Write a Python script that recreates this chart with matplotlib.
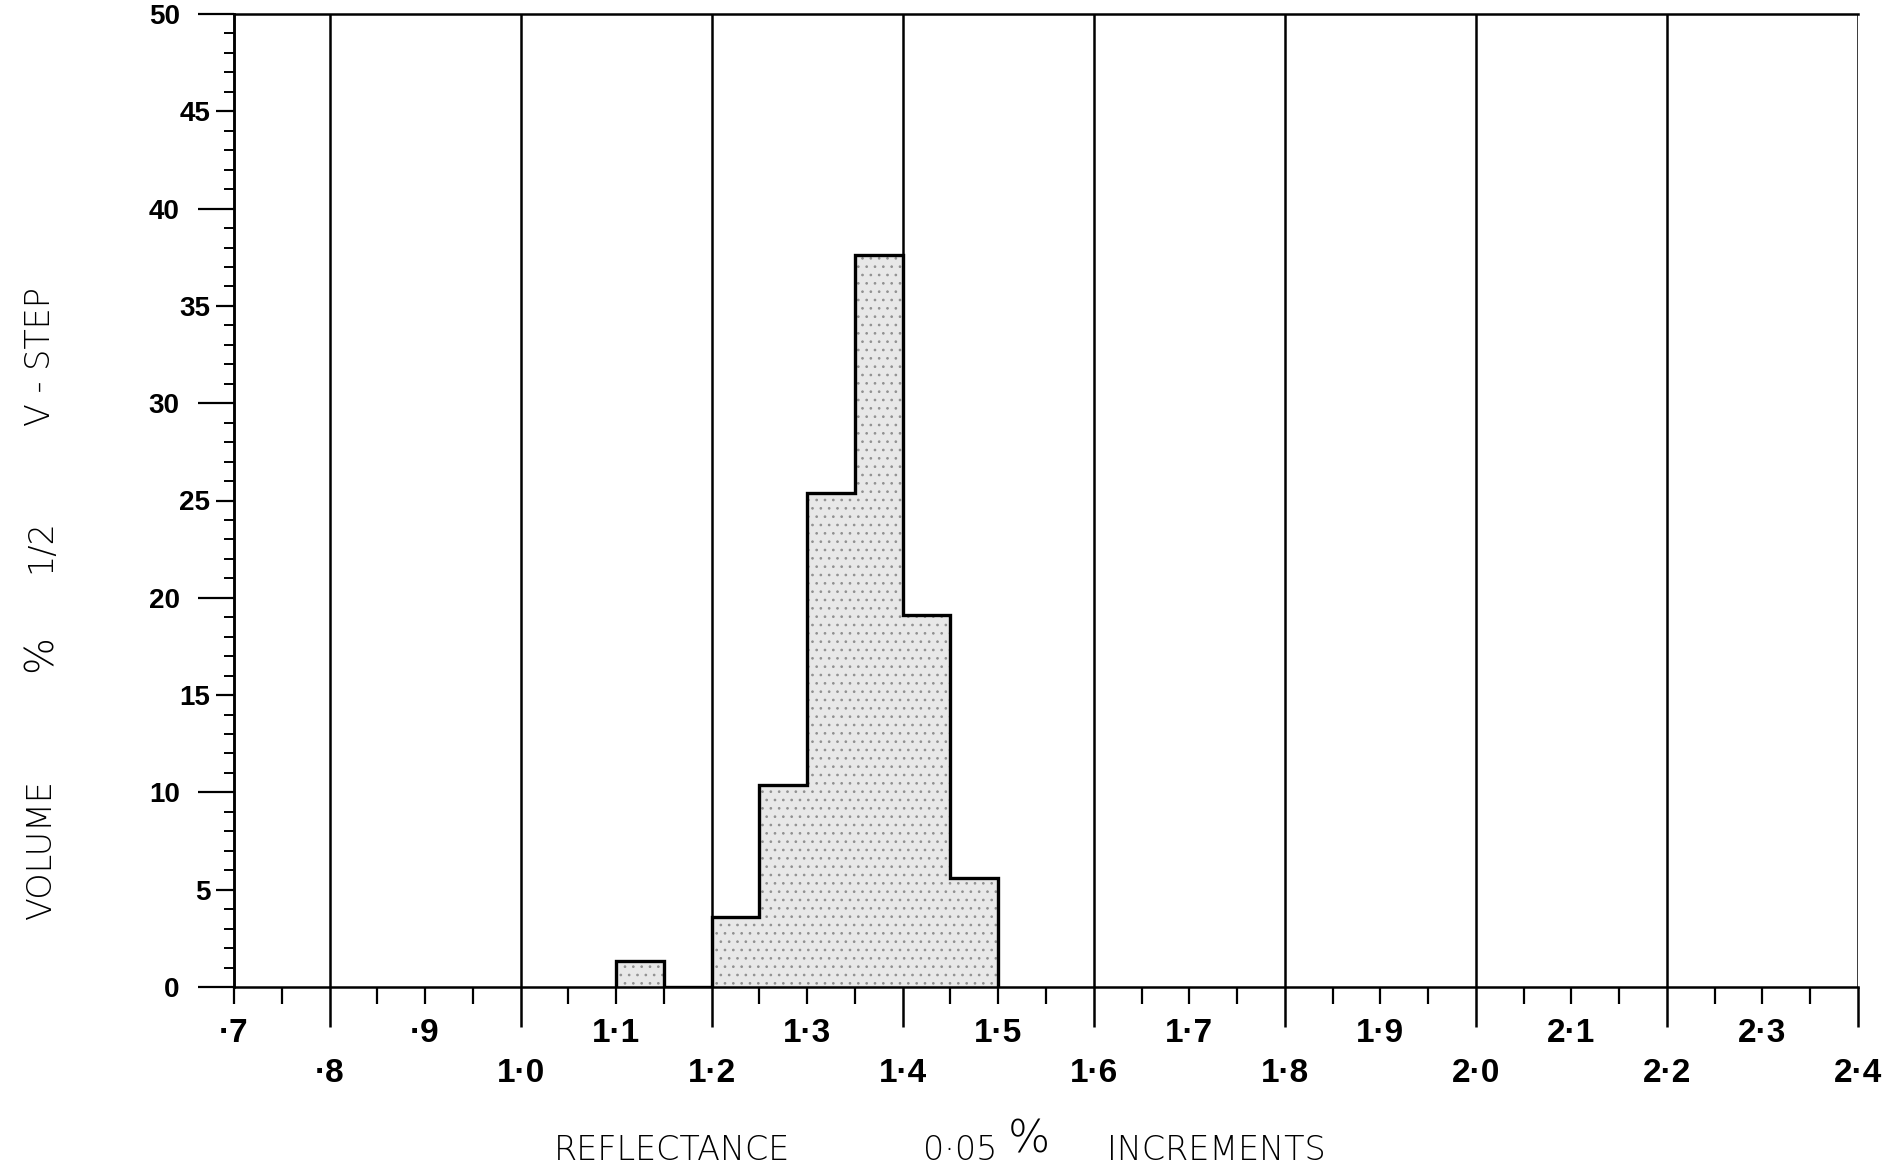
import matplotlib
matplotlib.use("Agg")
import matplotlib.pyplot as plt
from matplotlib.ticker import MultipleLocator, FixedLocator, FixedFormatter, FuncFormatter

# volume % per 0.05 % reflectance step
bin_edges = [1.10, 1.15, 1.20, 1.25, 1.30, 1.35, 1.40, 1.45, 1.50]
volume = [1.35, 0.0, 3.6, 10.4, 25.4, 37.6, 19.1, 5.6]

# x axis: long lines every 0.2 (lower label row), odd tenths on the upper row
x_even = [0.8, 1.0, 1.2, 1.4, 1.6, 1.8, 2.0, 2.2, 2.4]
x_even_labels = ["·8", "1·0", "1·2", "1·4", "1·6", "1·8", "2·0", "2·2", "2·4"]
x_odd = [0.7, 0.9, 1.1, 1.3, 1.5, 1.7, 1.9, 2.1, 2.3]
x_odd_labels = ["·7", "·9", "1·1", "1·3", "1·5", "1·7", "1·9", "2·1", "2·3"]

tick_font = ["Liberation Sans", "DejaVu Sans"]
title_font = ["DejaVu Sans"]

plt.rcParams["hatch.linewidth"] = 0.7

fig = plt.figure(figsize=(18.82, 11.73), dpi=100)
ax = fig.add_axes([234 / 1882, 1 - 987 / 1173, (1858 - 234) / 1882, (987 - 14) / 1173])
ax.set_xlim(0.7, 2.4)
ax.set_ylim(0, 50)

# histogram: stippled fill + heavy outline
ax.stairs(volume, bin_edges, fill=True, facecolor="#e8e8e8", edgecolor="#909090",
          hatch="..", linewidth=0, zorder=2)
ax.stairs(volume, bin_edges, baseline=0, color="black", linewidth=2.4, zorder=3)

ax.spines["right"].set_visible(False)
for side in ["left", "bottom", "top"]:
    ax.spines[side].set_linewidth(1.8)

# x ticks
ax.xaxis.set_major_locator(FixedLocator(x_even))
ax.xaxis.set_major_formatter(FixedFormatter(x_even_labels))
ax.xaxis.set_minor_locator(MultipleLocator(0.05))
odd_map = {round(v, 2): s for v, s in zip(x_odd, x_odd_labels)}
ax.xaxis.set_minor_formatter(FuncFormatter(lambda v, p: odd_map.get(round(v, 2), "")))
ax.tick_params(axis="x", which="major", length=29, width=1.8, pad=22, labelsize=24)
ax.tick_params(axis="x", which="minor", length=12, width=1.6, pad=10, labelsize=24)
ax.grid(axis="x", which="major", color="black", linewidth=1.8, zorder=1)

# y ticks: long at 10s, medium at 5s, short every 1
ax.yaxis.set_major_locator(MultipleLocator(10))
ax.yaxis.set_minor_locator(MultipleLocator(5))
ax.yaxis.set_minor_formatter(FuncFormatter(lambda v, p: f"{v:.0f}"))
ax.tick_params(axis="y", which="major", length=26, width=1.6, pad=13, labelsize=20)
ax.tick_params(axis="y", which="minor", length=13, width=1.6, pad=4, labelsize=20)

sec = ax.secondary_yaxis("left")
sec.yaxis.set_major_locator(MultipleLocator(1))
sec.tick_params(length=7, width=1.4, labelleft=False)
sec.spines["left"].set_linewidth(1.8)

for lab in ax.get_xticklabels(which="both") + ax.get_yticklabels(which="both"):
    lab.set_family(tick_font)
    lab.set_fontweight("bold")

# axis titles (wide-spaced typewriter lettering in the original)
tkw = dict(family=title_font, fontweight="light", fontsize=24)
fig.text(41 / 1882, 1 - 849 / 1173, "VOLUME", rotation=90, ha="center", va="center", **tkw)
fig.text(41 / 1882, 1 - 654 / 1173, "%", rotation=90, ha="center", va="center",
         family=title_font, fontweight="light", fontsize=28)
fig.text(41 / 1882, 1 - 546 / 1173, "1/2", rotation=90, ha="center", va="center", **tkw)
fig.text(41 / 1882, 1 - 357 / 1173, "V - STEP", rotation=90, ha="center", va="center", **tkw)

fig.text(672 / 1882, 1 - 1151 / 1173, "REFLECTANCE", ha="center", va="center", **tkw)
fig.text(960 / 1882, 1 - 1151 / 1173, "0·05", ha="center", va="center", **tkw)
fig.text(1029 / 1882, 1 - 1140 / 1173, "%", ha="center", va="center",
         family=title_font, fontweight="light", fontsize=32)
fig.text(1216 / 1882, 1 - 1151 / 1173, "INCREMENTS", ha="center", va="center", **tkw)

fig.savefig("out.png", dpi=100)
